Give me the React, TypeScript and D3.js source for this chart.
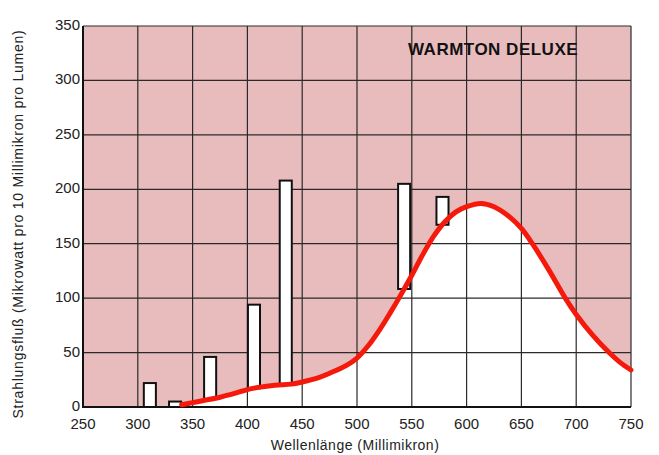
import React, { useEffect, useRef } from "react";
import * as d3 from "d3";

// spectral lines (nm) and their heights
const lineNm = [311, 334, 366, 406, 435, 543, 578];
const lineValue = [22, 5, 46, 94, 208, 205, 193];

// continuum curve
const curveNm = [340, 350, 360, 375, 390, 400, 410, 425, 440, 450, 465, 475, 490, 500, 510, 520, 530, 540, 550, 560, 570, 580, 590, 600, 613, 625, 640, 650, 660, 675, 690, 700, 715, 730, 740, 750];
const curveValue = [2, 4, 6, 9, 13, 16, 18, 20, 21, 23, 27, 31, 38, 45, 56, 70, 86, 103, 121, 140, 157, 170, 179, 184, 187, 184, 174, 164, 150, 126, 100, 85, 66, 50, 41, 34];

const xTicks = [250, 300, 350, 400, 450, 500, 550, 600, 650, 700, 750];
const yTicks = [0, 50, 100, 150, 200, 250, 300, 350];

const title = "WARMTON DELUXE";
const xTitle = "Wellenlänge (Millimikron)";
const yTitle = "Strahlungsfluß (Mikrowatt pro 10 Millimikron pro Lumen)";

function App() {
  const ref = useRef<SVGSVGElement>(null);

  useEffect(() => {
    const svg = d3.select(ref.current);
    svg.selectAll("*").remove();

    const left = 83,
      right = 631,
      top = 26,
      bottom = 407;
    const x = d3.scaleLinear().domain([250, 750]).range([left, right]);
    const y = d3.scaleLinear().domain([0, 350]).range([bottom, top]);
    const font = "'Liberation Sans', Arial, sans-serif";

    const pts = curveNm.map((n, i) => ({ n: n, v: curveValue[i] }));
    const continuum = (n: number) => {
      if (n < curveNm[0]) return 0;
      const i = d3.bisectLeft(curveNm, n);
      if (i <= 0) return curveValue[0];
      const t = (n - curveNm[i - 1]) / (curveNm[i] - curveNm[i - 1]);
      return curveValue[i - 1] + t * (curveValue[i] - curveValue[i - 1]);
    };

    // pink background
    svg
      .append("rect")
      .attr("x", left)
      .attr("y", top)
      .attr("width", right - left)
      .attr("height", bottom - top)
      .attr("fill", "#e8bcbd");

    // white area under curve
    const area = d3
      .area<any>()
      .x((d) => x(d.n))
      .y0(y(0))
      .y1((d) => y(d.v))
      .curve(d3.curveCatmullRom.alpha(0.5));
    svg.append("path").datum(pts).attr("d", area).attr("fill", "#fff");

    // grid
    const g = svg.append("g").attr("stroke", "#2a2a2a").attr("stroke-width", 1.2);
    xTicks.forEach((t) => {
      g.append("line").attr("x1", x(t)).attr("x2", x(t)).attr("y1", top).attr("y2", bottom);
    });
    yTicks.forEach((t) => {
      g.append("line").attr("x1", left).attr("x2", right).attr("y1", y(t)).attr("y2", y(t));
    });

    // axes lines
    svg
      .append("path")
      .attr("d", `M${left},${top}V${bottom}H${right}`)
      .attr("fill", "none")
      .attr("stroke", "#111")
      .attr("stroke-width", 2);

    // spectral line bars
    svg
      .selectAll("rect.bar")
      .data(lineNm)
      .enter()
      .append("rect")
      .attr("class", "bar")
      .attr("x", (d) => x(d - 5.5))
      .attr("width", (d) => x(d + 5.5) - x(d - 5.5))
      .attr("y", (d, i) => y(lineValue[i]))
      .attr("height", (d, i) => y(continuum(d)) - y(lineValue[i]))
      .attr("fill", "#fff")
      .attr("stroke", "#111")
      .attr("stroke-width", 2);

    // red curve
    const line = d3
      .line<any>()
      .x((d) => x(d.n))
      .y((d) => y(d.v))
      .curve(d3.curveCatmullRom.alpha(0.5));
    svg
      .append("path")
      .datum(pts)
      .attr("d", line)
      .attr("fill", "none")
      .attr("stroke", "#f5190c")
      .attr("stroke-width", 5)
      .attr("stroke-linecap", "round");

    // tick labels
    svg
      .selectAll("text.xt")
      .data(xTicks)
      .enter()
      .append("text")
      .attr("class", "xt")
      .attr("x", (d) => x(d))
      .attr("y", 429)
      .attr("text-anchor", "middle")
      .attr("font-family", font)
      .attr("font-size", 15)
      .attr("fill", "#222")
      .text((d) => d);

    svg
      .selectAll("text.yt")
      .data(yTicks)
      .enter()
      .append("text")
      .attr("class", "yt")
      .attr("x", 80)
      .attr("y", (d) => y(d) + 4)
      .attr("text-anchor", "end")
      .attr("font-family", font)
      .attr("font-size", 15)
      .attr("fill", "#222")
      .text((d) => d);

    svg
      .append("text")
      .attr("x", 355)
      .attr("y", 450)
      .attr("text-anchor", "middle")
      .attr("font-family", font)
      .attr("font-size", 14)
      .attr("letter-spacing", 0.5)
      .attr("fill", "#222")
      .text(xTitle);

    svg
      .append("text")
      .attr("transform", "translate(23,224) rotate(-90)")
      .attr("text-anchor", "middle")
      .attr("font-family", font)
      .attr("font-size", 14)
      .attr("letter-spacing", 0.75)
      .attr("fill", "#222")
      .text(yTitle);

    svg
      .append("text")
      .attr("x", 408)
      .attr("y", 55)
      .attr("font-family", font)
      .attr("font-size", 17)
      .attr("letter-spacing", 0.5)
      .attr("font-weight", "bold")
      .attr("fill", "#111")
      .text(title);
  }, []);

  return (
    <svg
      ref={ref}
      width={659}
      height={455}
      style={{ position: "absolute", left: 0, top: 0, background: "#fff" }}
    />
  );
}

export default App;
